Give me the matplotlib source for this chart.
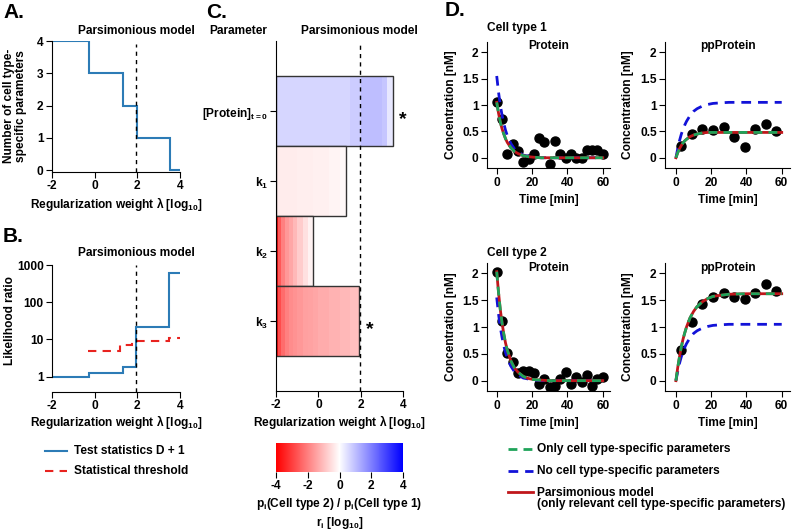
import numpy as np
import matplotlib.pyplot as plt
from matplotlib.colors import LinearSegmentedColormap
from matplotlib.lines import Line2D
from matplotlib.patches import Rectangle
from matplotlib.cm import ScalarMappable
from matplotlib.colors import Normalize

plt.rcParams['font.family'] = ['Liberation Sans', 'DejaVu Sans']
plt.rcParams['font.weight'] = 'bold'
plt.rcParams['font.size'] = 8.6
plt.rcParams['axes.unicode_minus'] = False
plt.rcParams['mathtext.fontset'] = 'custom'
plt.rcParams['mathtext.rm'] = 'Liberation Sans:bold'
plt.rcParams['mathtext.it'] = 'Liberation Sans:bold'
plt.rcParams['mathtext.bf'] = 'Liberation Sans:bold'
plt.rcParams['mathtext.default'] = 'rm'
plt.rcParams['xtick.major.size'] = 4
plt.rcParams['ytick.major.size'] = 4
plt.rcParams['xtick.major.pad'] = 2
plt.rcParams['ytick.major.pad'] = 2

# ---------------- data ----------------
# A: number of cell type-specific parameters along lambda
lam_a = [-2.0, -0.27, 1.34, 1.97, 3.53, 4.0]
n_specific = [4, 3, 2, 1, 0]

# B: likelihood ratio test
lam_stat = [-2.0, -0.25, 1.34, 1.95, 3.5, 4.0]
test_stat = [1.0, 1.23, 1.85, 22, 620]
lam_thr = [-0.3, 1.19, 1.73, 3.5, 4.0]
threshold = [5.0, 7.1, 9.1, 11.0]

lam_pars = 1.95

# C: parameter ratio paths
param_labels = ['[Protein]$_{t=0}$', 'k$_1$', 'k$_2$', 'k$_3$']
param_pos = [4, 3, 2, 1]
bar_end = [3.52, 1.31, -0.27, 1.94]
lam_cells = [-2.0, -1.9, -1.8, -1.6, -1.4, -1.2, -1.0, -0.75, -0.5, -0.25,
             0.0, 0.5, 1.0, 1.5, 2.0, 2.5, 3.0, 3.25]
r_protein = [0.65, 0.65, 0.65, 0.65, 0.65, 0.65, 0.65, 0.65, 0.65, 0.65,
             0.65, 0.65, 0.65, 0.8, 1.0, 1.0, 0.9, 0.35]
r_k1 = [-0.3, -0.3, -0.3, -0.3, -0.3, -0.3, -0.28, -0.27, -0.26, -0.25,
        -0.22, -0.18, -0.12]
r_k2 = [-3.8, -2.6, -2.0, -1.6, -1.4, -1.1, -0.8, -0.5, -0.2]
r_k3 = [-3.8, -2.8, -2.3, -2.0, -1.8, -1.7, -1.6, -1.5, -1.45, -1.4,
        -1.3, -1.2, -1.1, -1.0]
r_paths = [r_protein, r_k1, r_k2, r_k3]
significant = [True, False, False, True]

# D: measurements
t_prot = [0, 3, 6, 9, 12, 15, 18, 21, 24, 27, 30, 33, 36, 39, 42, 45, 48, 51, 54, 57, 60]
prot_ct1 = [1.06, 0.74, 0.08, 0.26, 0.13, -0.09, -0.03, 0.07, 0.37, 0.29, -0.12,
            0.31, 0.08, -0.01, 0.08, -0.01, -0.01, 0.15, 0.15, 0.15, 0.08]
prot_ct2 = [2.02, 1.11, 0.51, 0.34, 0.15, 0.18, 0.18, 0.15, -0.07, 0.03, -0.11,
            -0.10, 0.03, 0.16, -0.07, 0.06, -0.03, 0.11, -0.10, 0.03, 0.06]
t_pp = [3, 9, 15, 21, 27, 33, 39, 45, 51, 57]
pp_ct1 = [0.23, 0.45, 0.54, 0.52, 0.58, 0.39, 0.20, 0.54, 0.64, 0.50]
pp_ct2 = [0.58, 1.10, 1.42, 1.55, 1.63, 1.56, 1.52, 1.64, 1.80, 1.67]

# D: model trajectories
t_fit = [0, 1, 2, 3, 4, 5, 6, 8, 10, 12, 15, 18, 21, 25, 30, 40, 50, 60]
prot_ct1_fit = [1.05, 0.85, 0.68, 0.55, 0.45, 0.36, 0.29, 0.19, 0.12, 0.08, 0.04,
                0.02, 0.01, 0.0, 0.0, 0.0, 0.0, 0.0]
prot_ct2_fit = [2.03, 1.65, 1.33, 1.08, 0.87, 0.70, 0.57, 0.37, 0.24, 0.16, 0.08,
                0.04, 0.02, 0.01, 0.0, 0.0, 0.0, 0.0]
prot_common = [1.55, 1.25, 1.0, 0.81, 0.65, 0.52, 0.42, 0.27, 0.17, 0.11, 0.05,
               0.03, 0.01, 0.0, 0.0, 0.0, 0.0, 0.0]
pp_ct1_fit = [0.0, 0.095, 0.17, 0.23, 0.28, 0.32, 0.35, 0.40, 0.43, 0.45, 0.47,
              0.48, 0.48, 0.48, 0.48, 0.48, 0.48, 0.48]
pp_ct2_fit = [0.0, 0.24, 0.44, 0.62, 0.77, 0.89, 1.0, 1.17, 1.29, 1.38, 1.47,
              1.53, 1.57, 1.59, 1.61, 1.62, 1.62, 1.62]
pp_common = [0.0, 0.17, 0.32, 0.44, 0.54, 0.62, 0.69, 0.80, 0.88, 0.93, 0.98,
             1.01, 1.03, 1.04, 1.05, 1.05, 1.05, 1.05]

# ---------------- layout helpers ----------------
W, H = 794, 532
fig = plt.figure(figsize=(W / 100, H / 100), dpi=100)


def box(x0, y0, x1, y1):
    return fig.add_axes([x0 / W, 1 - y1 / H, (x1 - x0) / W, (y1 - y0) / H])


def ftext(x, y, s, **kw):
    kw.setdefault('ha', 'center')
    kw.setdefault('va', 'center')
    return fig.text(x / W, 1 - y / H, s, **kw)


def fline(x0, x1, y, **kw):
    fig.add_artist(Line2D([x0 / W, x1 / W], [1 - y / H, 1 - y / H], **kw))


def style(ax):
    ax.spines['top'].set_visible(False)
    ax.spines['right'].set_visible(False)
    ax.minorticks_off()


blue_a = '#2c7bb6'
red_b = '#e8231f'
lam_label = r'Regularization weight $\lambda$ [log$_{10}$]'

# ---------------- panel A ----------------
axA = box(52, 41, 180, 172)
axA.stairs(n_specific, lam_a, baseline=None, color=blue_a, lw=1.5)
axA.axvline(lam_pars, ymax=0.98, color='black', lw=1, ls=(0, (3, 3)))
axA.set_xlim(-2, 4)
axA.set_ylim(-0.06, 4)
axA.set_xticks([-2, 0, 2, 4])
axA.set_yticks([0, 1, 2, 3, 4])
style(axA)
ftext(3, 12, 'A.', fontsize=15, ha='left')
ftext(136, 31, 'Parsimonious model')
ftext(15, 106, 'Number of cell type-\nspecific parameters', rotation=90, linespacing=0.95)
ftext(116, 204, lam_label)

# ---------------- panel B ----------------
axB = box(52, 265, 180, 391.7)
axB.stairs(test_stat, lam_stat, baseline=None, color=blue_a, lw=1.5)
axB.stairs(threshold, lam_thr, baseline=None, color=red_b, lw=1.5, ls=(0, (4, 3)))
axB.axvline(lam_pars, color='black', lw=1, ls=(0, (3, 3)))
axB.set_yscale('log')
axB.set_xlim(-2, 4)
axB.set_ylim(0.395, 1000)
axB.spines['left'].set_bounds(1, 1000)
axB.set_xticks([-2, 0, 2, 4])
axB.set_yticks([1, 10, 100, 1000])
axB.set_yticklabels(['1', '10', '100', '1000'])
style(axB)
ftext(3, 237, 'B.', fontsize=15, ha='left')
ftext(136, 253, 'Parsimonious model')
ftext(10, 321, 'Likelihood ratio', rotation=90)
ftext(116, 422, lam_label)

fline(45, 67, 450.7, color=blue_a, lw=1.5)
ftext(74, 450.7, 'Test statistics D + 1', ha='left')
fline(45, 67, 471, color=red_b, lw=1.5, ls=(0, (4, 3)))
ftext(74, 471, 'Statistical threshold', ha='left')

# ---------------- panel C ----------------
cmap = LinearSegmentedColormap.from_list('rwb', ['#ff0000', '#ffffff', '#0000ff'])
axC = box(276.3, 41, 402.7, 391)
for pos, end, r, sig in zip(param_pos, bar_end, r_paths, significant):
    edges = [c for c in lam_cells if c < end] + [end]
    axC.pcolormesh(edges, [pos - 0.5, pos + 0.5], [r], cmap=cmap, vmin=-4, vmax=4)
    axC.add_patch(Rectangle((-2, pos - 0.5), end + 2, 1, fill=False,
                            edgecolor='#333333', lw=1))
    if sig:
        axC.text(end + 0.48, pos - 0.12, '*', fontsize=14, ha='center', va='center')
axC.axvline(lam_pars, color='black', lw=1, ls=(0, (3, 3)))
axC.set_xlim(-2, 4)
axC.set_ylim(0, 5)
axC.set_xticks([-2, 0, 2, 4])
axC.set_yticks(param_pos)
axC.set_yticklabels(param_labels)
style(axC)
ftext(206, 12, 'C.', fontsize=15, ha='left')
ftext(238, 31, 'Parameter')
ftext(359, 31, 'Parsimonious model')
ftext(339.5, 422, lam_label)

axCB = box(276.3, 443, 402.7, 472)
cb = fig.colorbar(ScalarMappable(norm=Normalize(-4, 4), cmap=cmap), cax=axCB,
                  orientation='horizontal', ticks=[-4, -2, 0, 2, 4])
cb.outline.set_visible(False)
cb.ax.tick_params(length=4, pad=2)
ftext(339.5, 504, 'p$_i$(Cell type 2) / p$_i$(Cell type 1)')
ftext(339.5, 523, 'r$_i$ [log$_{10}$]')

# ---------------- panel D ----------------
green = '#1fa35a'
blue_d = '#1212d8'
red_d = '#c0161b'
dash_g = (0, (3.2, 2.2))
dash_b = (0, (3.5, 2.5))


def kinetics(ax, t_obs, y_obs, fit, common, xlim):
    ax.plot(t_obs, y_obs, 'o', color='black', ms=6.5, zorder=2)
    ax.plot(t_fit, common, color=blue_d, lw=2, ls=dash_b, zorder=3)
    ax.plot(t_fit, fit, color=red_d, lw=2, zorder=4)
    ax.plot(t_fit, fit, color=green, lw=2, ls=dash_g, zorder=5)
    ax.set_xlim(*xlim)
    ax.set_ylim(-0.2, 2.2)
    ax.set_xticks([0, 20, 40, 60])
    ax.set_yticks([0, 0.5, 1, 1.5, 2])
    ax.set_yticklabels(['0', '0.5', '1', '1.5', '2'])
    style(ax)


axD1 = box(487, 41.7, 610, 168.3)
kinetics(axD1, t_prot, prot_ct1, prot_ct1_fit, prot_common, (-5.5, 64.1))
axD2 = box(665, 41.7, 790, 168.3)
kinetics(axD2, t_pp, pp_ct1, pp_ct1_fit, pp_common, (-6.2, 64.7))
axD3 = box(487, 262.6, 610, 391.4)
kinetics(axD3, t_prot, prot_ct2, prot_ct2_fit, prot_common, (-5.5, 64.1))
axD4 = box(665, 262.6, 790, 391.4)
kinetics(axD4, t_pp, pp_ct2, pp_ct2_fit, pp_common, (-6.2, 64.7))

ftext(445, 11, 'D.', fontsize=15, ha='left')
ftext(487, 28, 'Cell type 1', ha='left')
ftext(487, 252.7, 'Cell type 2', ha='left')
for yt in (46, 268):
    ftext(548.5, yt, 'Protein')
    ftext(727.5, yt, 'ppProtein')
for yc, yx in ((105, 200), (327, 422.7)):
    ftext(451, yc, 'Concentration [nM]', rotation=90)
    ftext(628, yc, 'Concentration [nM]', rotation=90)
    ftext(548.5, yx, 'Time [min]')
    ftext(727.5, yx, 'Time [min]')

fline(508, 533, 449.3, color=green, lw=2, ls=dash_g)
ftext(537, 449.3, 'Only cell type-specific parameters', ha='left')
fline(508, 533, 470.7, color=blue_d, lw=2, ls=dash_b)
ftext(537, 470.7, 'No cell type-specific parameters', ha='left')
fline(508, 533, 491.5, color=red_d, lw=2)
ftext(537, 492.7, 'Parsimonious model', ha='left')
ftext(537, 503.5, '(only relevant cell type-specific parameters)', ha='left')

fig.savefig('out.png', dpi=100)
